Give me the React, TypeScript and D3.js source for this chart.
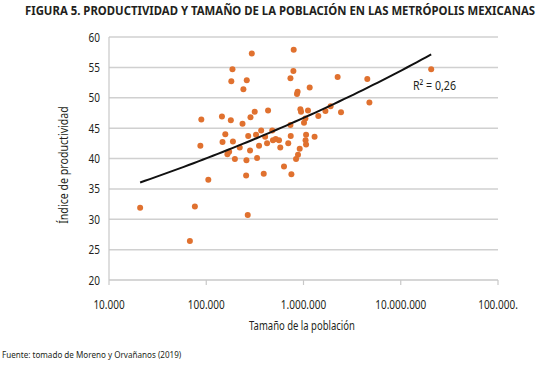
import React from "react";
import * as d3 from "d3";

const title = "FIGURA 5. PRODUCTIVIDAD Y TAMAÑO DE LA POBLACIÓN EN LAS METRÓPOLIS MEXICANAS";
const xTitle = "Tamaño de la población";
const yTitle = "Índice de productividad";
const source = "Fuente: tomado de Moreno y Orvañanos (2019)";
const r2Label = "R² = 0,26";

const yTicks = [20, 25, 30, 35, 40, 45, 50, 55, 60];
const xTicks = [1e4, 1e5, 1e6, 1e7, 1e8];
const xTickLabels = ["10.000", "100.000", "1.000.000", "10.000.000", "100.000."];

// poblacion / indice, one entry per metropoli
const poblacion = [
  20900, 76400, 67900, 267000, 105000, 257000, 390000, 751000, 630000, 165000,
  172000, 197000, 259000, 333000, 282000, 221000, 87000, 349000, 422000, 147000,
  188000, 157000, 270000, 325000, 367000, 403000, 477000, 485000, 518000, 560000,
  577000, 697000, 739000, 914000, 878000, 838000, 1063000, 1063000, 1050000, 1300000,
  734000, 1012000, 1046000, 1420000, 929000, 943000, 1112000, 1680000, 1900000, 2430000,
  4760000, 432000, 315000, 285000, 236000, 179000, 145000, 89000, 181000, 186000,
  261000, 241000, 294000, 793000, 787000, 734000, 1158000, 870000, 857000, 2244000,
  4530000, 20560000,
];
const productividad = [
  31.9, 32.1, 26.4, 30.7, 36.5, 37.2, 37.5, 37.4, 38.7, 40.7,
  41.1, 39.9, 39.7, 40.1, 41.3, 41.8, 42.1, 42.1, 42.5, 42.7,
  42.8, 44.0, 43.7, 43.9, 44.6, 43.6, 44.6, 43.0, 43.2, 43.0,
  41.8, 42.5, 43.7, 41.6, 40.6, 39.9, 42.3, 43.9, 43.0, 43.6,
  45.5, 45.9, 46.6, 47.0, 48.1, 47.7, 47.9, 47.8, 48.6, 47.6,
  49.2, 47.9, 47.7, 46.8, 45.7, 46.3, 46.9, 46.4, 52.7, 54.7,
  52.9, 51.4, 57.3, 57.9, 54.4, 53.2, 51.7, 51.0, 50.6, 53.4,
  53.1, 54.7,
];

// power trendline y = a * x^b
const trendA = 18.55;
const trendB = 0.0668;

const font = "'Noto Sans', sans-serif";
const ink = "#231f20";

// narrow text: squeeze horizontally around the anchor point
const NText = ({ x, y, sx = 0.8, anchor = "start", size = 12, rotate = 0, weight = "normal", children }: any) => (
  <g transform={`translate(${x},${y}) rotate(${rotate}) scale(${sx},1)`}>
    <text textAnchor={anchor} fontSize={size} fontWeight={weight} fill={ink}>
      {children}
    </text>
  </g>
);

export default function App() {
  const x = d3.scaleLog().domain([1e4, 1e8]).range([109, 498]);
  const y = d3.scaleLinear().domain([20, 60]).range([280, 37]);

  const [xmin, xmax] = d3.extent(poblacion) as [number, number];
  const lo = Math.log10(xmin);
  const hi = Math.log10(xmax);
  const trendX = d3.range(0, 61).map((i) => Math.pow(10, lo + (i / 60) * (hi - lo)));
  const line = d3
    .line<number>()
    .x((d) => x(d))
    .y((d) => y(trendA * Math.pow(d, trendB)));

  const [x0, x1] = x.range();

  return (
    <svg
      width={543}
      height={365}
      style={{ position: "absolute", left: 0, top: 0, background: "#fff" }}
      fontFamily={font}
    >
      <text x={25} y={15} fontSize={11.5} fontWeight="bold" fill={ink} textLength={510} lengthAdjust="spacingAndGlyphs">
        {title}
      </text>

      {yTicks.map((t) => (
        <g key={t}>
          {t > 20 && <line x1={x0} x2={x1} y1={y(t)} y2={y(t)} stroke="#d0d0d0" strokeWidth={1.5} />}
          <NText x={100} y={y(t) + 4.5} anchor="end" size={12.5}>
            {t}
          </NText>
        </g>
      ))}
      <line x1={x0} x2={x0} y1={y(60)} y2={y(20)} stroke="#c8c8c8" strokeWidth={1.2} />
      <line x1={x0} x2={x1} y1={y(20)} y2={y(20)} stroke="#c8c8c8" strokeWidth={1.5} />
      {xTicks.map((t, i) => (
        <g key={t}>
          <line x1={x(t)} x2={x(t)} y1={y(20)} y2={y(20) + 5} stroke="#c8c8c8" strokeWidth={1.2} />
          <NText x={x(t)} y={y(20) + 29} anchor="middle" size={12.5}>
            {xTickLabels[i]}
          </NText>
        </g>
      ))}

      {poblacion.map((p, i) => (
        <circle key={i} cx={x(p)} cy={y(productividad[i])} r={3} fill="#e0712f" />
      ))}

      <path d={line(trendX) ?? ""} fill="none" stroke="#111" strokeWidth={2} />
      <NText x={413} y={90} size={12.5} sx={0.85}>
        {r2Label}
      </NText>

      <NText x={302} y={330} anchor="middle" size={12.5} sx={0.76}>
        {xTitle}
      </NText>
      <NText x={68} y={165} anchor="middle" size={12.5} sx={0.85} rotate={-90}>
        {yTitle}
      </NText>
      <NText x={2} y={358} size={9} sx={0.9}>
        {source}
      </NText>
    </svg>
  );
}
